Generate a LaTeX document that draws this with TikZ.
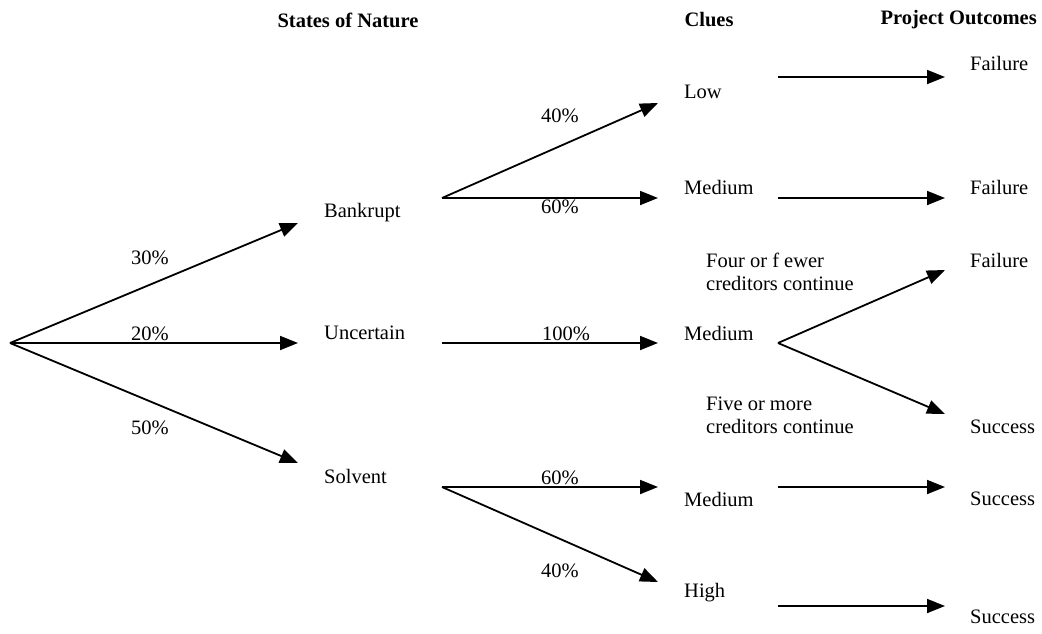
\documentclass[tikz,border=0pt]{standalone}
\usepackage{fontspec}
\setmainfont{Liberation Serif}
\usetikzlibrary{arrows.meta}
\begin{document}
\begin{tikzpicture}[x=1pt,y=-1pt,
  txt/.style={font=\fontsize{20.5}{23}\selectfont, inner sep=0pt, anchor=west},
  hdr/.style={font=\fontsize{20.5}{23}\selectfont\bfseries, inner sep=0pt},
  pct/.style={font=\fontsize{20.5}{23}\selectfont, inner sep=0pt},
  onl/.style={pct, fill=white, inner sep=0.6pt},
  arr/.style={line width=1.8pt, -{Triangle[length=18pt,width=14pt]}}]
\useasboundingbox (0,0) rectangle (1042,633);
% headers
\node[hdr] (h1) at (348,20) {States of Nature};
\node[hdr] (h2) at (709,20) {Clues};
\node[hdr, anchor=east] (h3) at (1037,20) {Project Outcomes};
% states
\node[txt] (bank) at (324,213) {Bankrupt};
\node[txt] (unc) at (324,333) {Uncertain};
\node[txt] (solv) at (324,476) {Solvent};
% clues
\node[txt] (low) at (684,92) {Low};
\node[txt] (med1) at (684,187) {Medium};
\node[txt] (med2) at (684,333) {Medium};
\node[txt] (med3) at (684,499) {Medium};
\node[txt] (high) at (684,593) {High};
% outcomes
\node[txt] (o1) at (970,63) {Failure};
\node[txt] (o2) at (970,187) {Failure};
\node[txt] (o3) at (970,260) {Failure};
\node[txt] (o4) at (970,427) {Success};
\node[txt] (o5) at (970,499) {Success};
\node[txt] (o6) at (970,617) {Success};
% branch notes
\node[txt, align=left] (four) at (706,272) {Four or f ewer\\creditors continue};
\node[txt, align=left] (five) at (706,415) {Five or more\\creditors continue};
% coordinates
\coordinate (root) at (10,343);
\coordinate (bankin) at (298,223);
\coordinate (uncin) at (298,343);
\coordinate (solvin) at (298,463);
\coordinate (bankout) at (442,198);
\coordinate (uncout) at (442,343);
\coordinate (solvout) at (442,487);
\coordinate (lowin) at (658,103);
\coordinate (med1in) at (658,198);
\coordinate (med2in) at (658,343);
\coordinate (med3in) at (658,487);
\coordinate (highin) at (658,582);
\coordinate (lowout) at (778,77);
\coordinate (med1out) at (778,198);
\coordinate (med2out) at (778,343);
\coordinate (med3out) at (778,487);
\coordinate (highout) at (778,606);
\coordinate (o1in) at (945,77);
\coordinate (o2in) at (945,198);
\coordinate (o3in) at (945,270);
\coordinate (o4in) at (945,414);
\coordinate (o5in) at (945,487);
\coordinate (o6in) at (945,606);
% arrows
\draw[arr] (root) -- (bankin);
\draw[arr] (root) -- (uncin);
\draw[arr] (root) -- (solvin);
\draw[arr] (bankout) -- (lowin);
\draw[arr] (bankout) -- (med1in);
\draw[arr] (uncout) -- (med2in);
\draw[arr] (solvout) -- (med3in);
\draw[arr] (solvout) -- (highin);
\draw[arr] (lowout) -- (o1in);
\draw[arr] (med1out) -- (o2in);
\draw[arr] (med2out) -- (o3in);
\draw[arr] (med2out) -- (o4in);
\draw[arr] (med3out) -- (o5in);
\draw[arr] (highout) -- (o6in);
% percentages
\node[pct] (p30) at (150,258) {30\%};
\node[onl, anchor=south] (p20) at (150,342) {20\%};
\node[pct] (p50) at (150,428) {50\%};
\node[pct] (p40a) at (560,116) {40\%};
\node[onl, anchor=north] (p60a) at (560,199.5) {60\%};
\node[onl, anchor=south] (p100) at (566,342) {100\%};
\node[onl, anchor=south] (p60b) at (560,486) {60\%};
\node[pct] (p40b) at (560,571) {40\%};
\end{tikzpicture}
\end{document}
